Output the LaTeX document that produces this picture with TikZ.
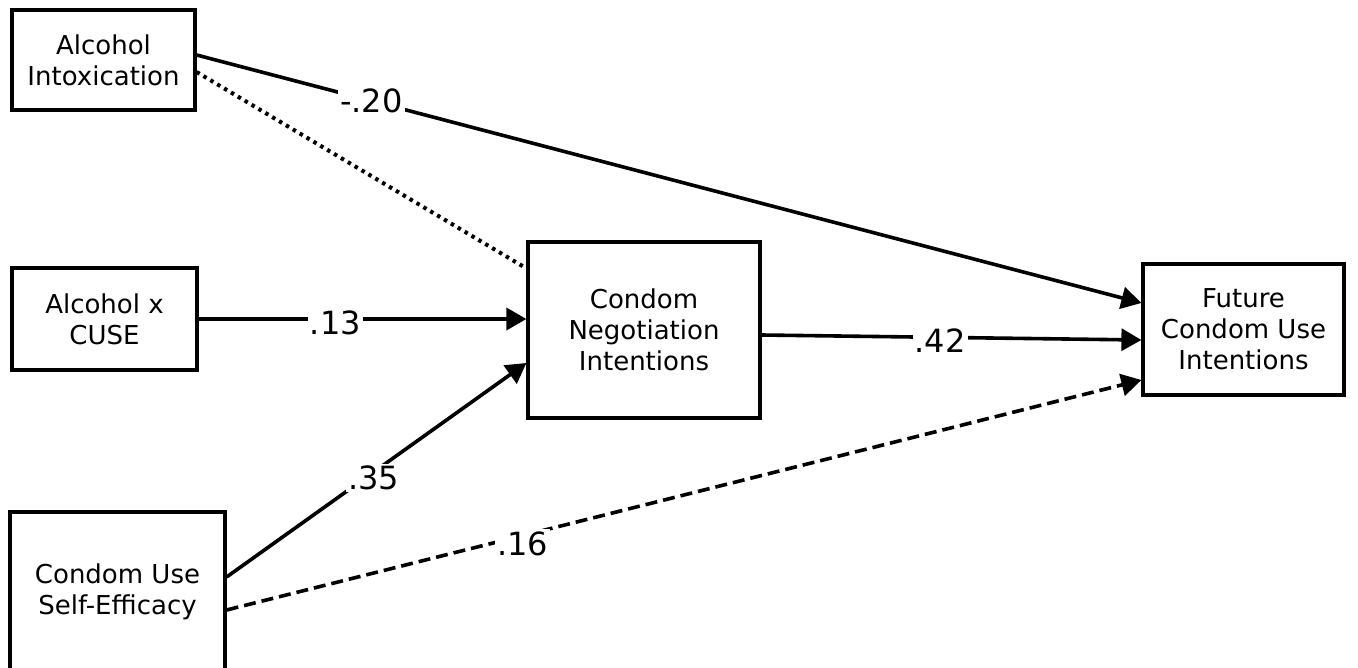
\documentclass[tikz,border=0pt]{standalone}
\usepackage{fontspec}
\setmainfont{DejaVu Sans}
\usetikzlibrary{arrows.meta,calc}
\begin{document}
\begin{tikzpicture}[x=1pt,y=-1pt,
  boxnode/.style={draw,line width=3.2pt,align=center,font=\fontsize{26}{31}\selectfont,inner sep=0pt},
  path/.style={line width=3.6pt,-{Triangle[length=20pt,width=22pt]}},
  lbl/.style={fill=white,inner sep=2pt,font=\fontsize{32}{36}\selectfont},
  dottedpath/.style={line width=4pt,dash pattern=on 3.5pt off 4.5pt},
  dashedpath/.style={line width=3.6pt,dash pattern=on 12pt off 6pt,-{Triangle[length=20pt,width=22pt]}}]
\useasboundingbox (0,0) rectangle (1358,668);
\node[boxnode,minimum width=183pt,minimum height=100pt] (A) at (103.5,60) {Alcohol\\Intoxication};
\node[boxnode,minimum width=185pt,minimum height=102pt] (B) at (104.5,319) {Alcohol x\\CUSE};
\node[boxnode,minimum width=215pt,minimum height=160pt] (C) at (117.5,592) {Condom Use\\Self-Efficacy};
\node[boxnode,minimum width=232pt,minimum height=176pt] (D) at (644,330) {Condom\\Negotiation\\Intentions};
\node[boxnode,minimum width=201pt,minimum height=131pt] (E) at (1243.5,329.5) {Future\\Condom Use\\Intentions};
% dotted A -> D
\draw[dottedpath] ([yshift=-12pt]A.east) -- ([yshift=-28pt]D.north west);
% A -> E
\draw[path] ([yshift=5pt]A.east) -- node[lbl,pos=0.185]{-.20} ([yshift=26.5pt]E.west);
% B -> D
\draw[path] (B.east) -- node[lbl,pos=0.417,yshift=-4pt]{.13} (B.east -| D.west);
% C -> D
\draw[path] ([yshift=15pt]C.east) -- node[lbl,pos=0.49,yshift=-6pt]{.35} ([yshift=-33pt]D.west);
% C -> E dashed
\draw[dashedpath] ([yshift=-18pt]C.east) -- node[lbl,pos=0.3235,yshift=-8pt]{.16} ([yshift=-50.5pt]E.west);
% D -> E
\draw[path] ([yshift=-5pt]D.east) -- node[lbl,pos=0.47,yshift=-3pt]{.42} ([yshift=-10.5pt]E.west);
\end{tikzpicture}
\end{document}
